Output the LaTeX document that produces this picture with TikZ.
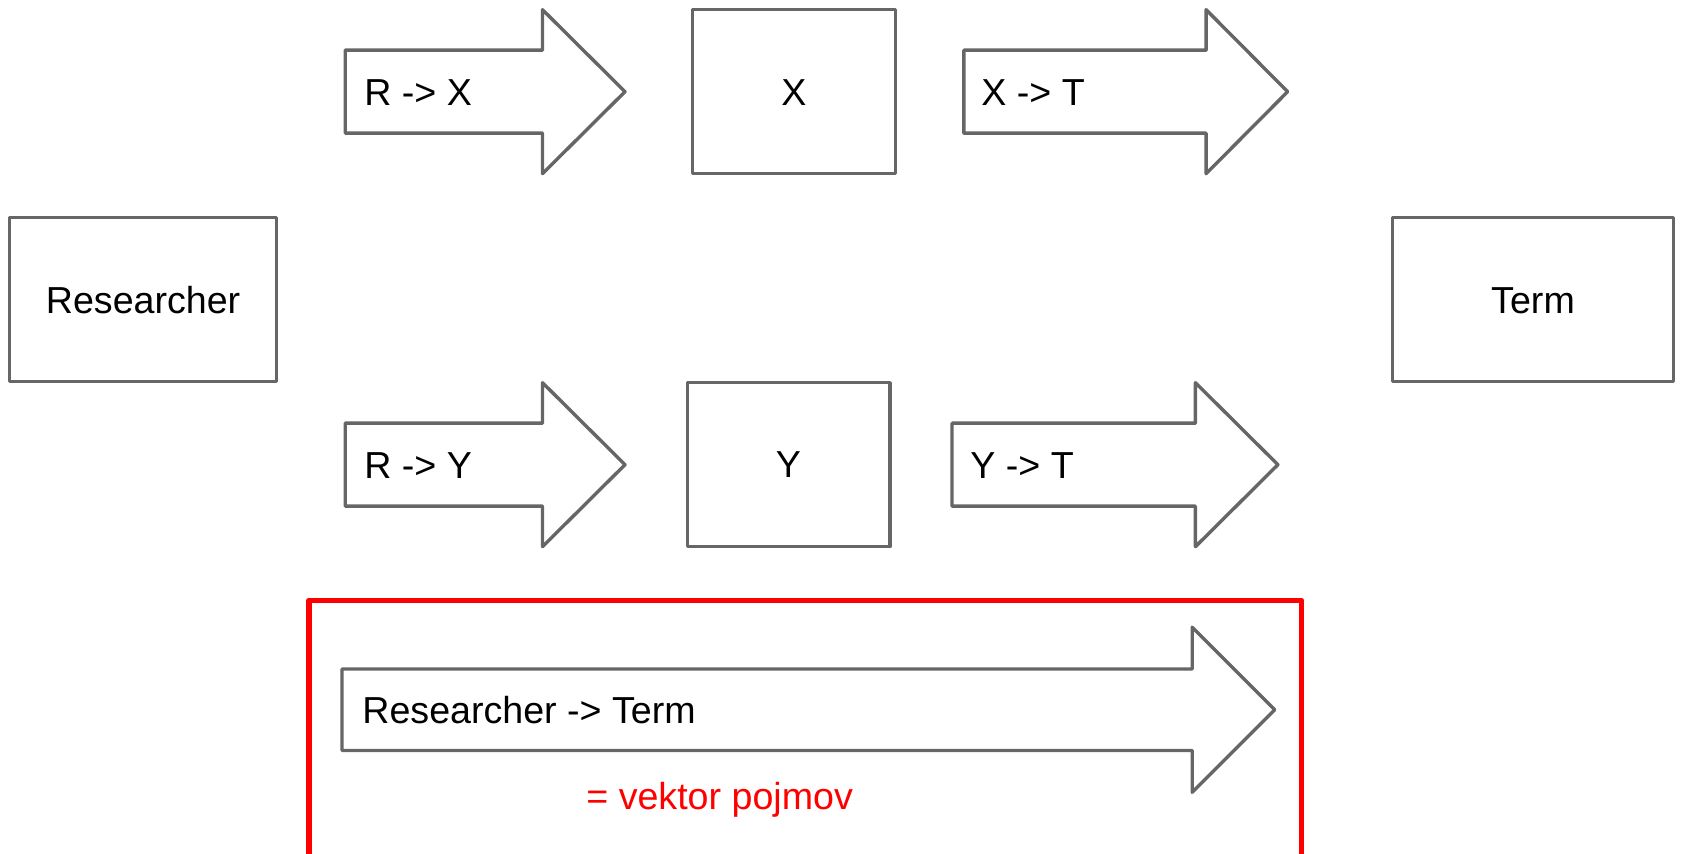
\documentclass[tikz,border=0pt]{standalone}
\usepackage{fontspec}
\setmainfont{Liberation Sans}
\definecolor{linegray}{HTML}{666666}
\definecolor{boxred}{HTML}{FF0000}
\tikzset{
  boxshape/.style={draw=linegray, line width=1.7pt, line join=round},
  arrowshape/.style={draw=linegray, line width=1.7pt, line join=round},
  redframe/.style={draw=boxred, line width=2.8pt, line join=round},
  lbl/.style={font=\fontsize{18.8}{22}\selectfont, text=black, inner sep=0pt, anchor=base west},
  clbl/.style={font=\fontsize{18.8}{22}\selectfont, text=black, inner sep=0pt, anchor=base},
}
\newcommand{\fatarrow}[4]{% left, head base x, tip x, center y
  \draw[arrowshape] (#1,#4-41.5) -- (#2,#4-41.5) -- (#2,#4-82) -- (#3,#4) -- (#2,#4+82) -- (#2,#4+41.5) -- (#1,#4+41.5) -- cycle;
}
\begin{document}
\begin{tikzpicture}[x=0.5pt, y=-0.5pt]
\useasboundingbox (0,0) rectangle (1681,854);
\clip (0,0) rectangle (1681,854);
% boxes
\draw[boxshape] (9.6,217.6) rectangle (276.6,381.7);
\node[clbl] (researcher) at (143.1,313.5) {Researcher};
\draw[boxshape] (692.6,9.6) rectangle (895.2,173.7);
\node[clbl] (x) at (793.9,105.5) {X};
\draw[boxshape] (687.2,382.7) rectangle (889.8,546.8);
\node[clbl] (y) at (788.5,478) {Y};
\draw[boxshape] (1392.6,217.6) rectangle (1673.5,381.7);
\node[clbl] (term) at (1533,313.5) {Term};
% arrows
\fatarrow{345.2}{542.5}{625}{91.7}
\node[lbl] (rx) at (364,105.5) {R -> X};
\fatarrow{963.8}{1206.1}{1287.6}{91.7}
\node[lbl] (xt) at (981,105.5) {X -> T};
\fatarrow{345.2}{542.5}{625}{464.7}
\node[lbl] (ry) at (364,478.5) {R -> Y};
\fatarrow{952}{1195.4}{1277.9}{464.7}
\node[lbl] (yt) at (970,478.5) {Y -> T};
% red frame
\draw[redframe] (308.8,870) -- (308.8,600.4) -- (1301.5,600.4) -- (1301.5,870);
\draw[arrowshape] (342,669) -- (1192.2,669) -- (1192.2,627.2) -- (1274.7,709.7) -- (1192.2,792.3) -- (1192.2,750.5) -- (342,750.5) -- cycle;
\node[lbl] (rt) at (362,723.5) {Researcher -> Term};
\node[lbl, text=boxred] (vp) at (586,809) {= vektor pojmov};
\end{tikzpicture}
\end{document}
